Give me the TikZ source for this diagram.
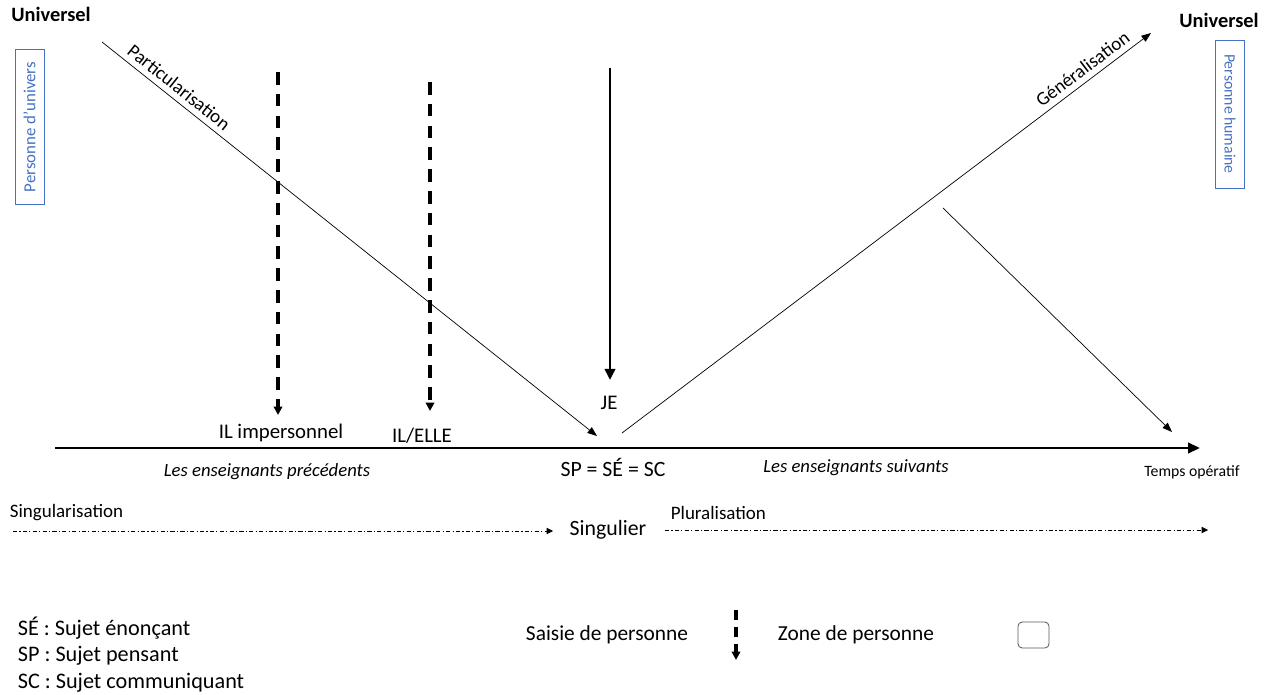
\documentclass[tikz,border=0pt]{standalone}
\usepackage{fontspec}
\setmainfont{Carlito}
\usetikzlibrary{arrows.meta, positioning}
\definecolor{cblue}{HTML}{4472C4}
\definecolor{cgrey}{HTML}{595959}
\tikzset{
  every picture/.style={line width=0.6pt},
  lbl/.style={font=\fontsize{14.8}{17}\selectfont, inner sep=1pt},
  legend/.style={font=\fontsize{15.8}{18}\selectfont, inner sep=1pt},
  small/.style={font=\fontsize{13.5}{15}\selectfont, inner sep=1pt},
  ital/.style={font=\fontsize{13.3}{15}\selectfont\itshape, inner sep=1pt},
  univ/.style={font=\fontsize{14.5}{17}\selectfont\bfseries, inner sep=1pt},
  persbox/.style={draw=cblue, text=cblue, font=\fontsize{12}{14}\selectfont, minimum height=0.725cm, inner sep=1pt},
  zonebox/.style={draw=cgrey, rounded corners=3pt, minimum width=0.775cm, minimum height=0.65cm},
  thinarrow/.style={-{Triangle[length=2.4mm, width=1.8mm]}, line width=0.5pt},
  thickarrow/.style={-{Triangle[length=2.8mm, width=2.6mm]}, line width=2pt},
  saisie/.style={-{Triangle[length=2.1mm, width=2.1mm]}, line width=2.4pt, dash pattern=on 9pt off 6.5pt},
  trajet/.style={-{Triangle[length=1.6mm, width=1.6mm]}, line width=0.6pt, dash pattern=on 3pt off 1.6pt on 0.8pt off 1.6pt},
}
\begin{document}
\begin{tikzpicture}[x=0.025cm, y=-0.025cm]
  \useasboundingbox (0,0) rectangle (1267,695);
  % les deux universels
  \node[univ] (univL) at (51,14) {Universel};
  \node[univ] (univR) at (1219,20) {Universel};
  \node[persbox, rotate=90, minimum width=3.875cm] (persU) at (29.5,127) {Personne d’univers};
  \node[persbox, rotate=-90, minimum width=3.7cm, font=\fontsize{11.2}{13}\selectfont] (persH) at (1230,114) {Personne humaine};
  % particularisation
  \coordinate (partS) at (102,42);
  \coordinate (partE) at (597,436);
  \draw[thinarrow] (partS) -- node[small, sloped, above, pos=0.14, inner sep=4pt] (partL) {Particularisation} (partE);
  % saisies de personne
  \coordinate (ilS) at (278,72);
  \coordinate (ilE) at (278,415);
  \node[lbl] (ilimp) at (281,433) {IL impersonnel};
  \draw[saisie] (ilS) -- (ilE);
  \coordinate (elleS) at (430,82);
  \coordinate (elleE) at (430,411);
  \node[lbl] (elle) at (422,436) {IL/ELLE};
  \draw[saisie] (elleS) -- (elleE);
  \coordinate (jeS) at (610,68);
  \coordinate (jeE) at (610,380);
  \node[lbl] (je) at (609,403) {JE};
  \draw[thickarrow] (jeS) -- (jeE);
  % generalisation
  \coordinate (genS) at (622,433);
  \coordinate (genE) at (1151,33);
  \draw[thinarrow] (genS) -- node[small, sloped, above, pos=0.885, inner sep=4pt] (genL) {Généralisation} (genE);
  \coordinate (sufS) at (943,208);
  \coordinate (sufE) at (1172,432);
  \draw[thinarrow] (sufS) -- (sufE);
  % temps operatif
  \coordinate (tS) at (55,448);
  \coordinate (tE) at (1200,448);
  \draw[thickarrow, -{Triangle[length=3mm, width=2.6mm]}] (tS) -- (tE);
  \node[font=\fontsize{11.2}{13}\selectfont, inner sep=1pt] (temps) at (1192,472) {Temps opératif};
  \node[ital] (prec) at (267,472) {Les enseignants précédents};
  \node[lbl, font=\fontsize{15.5}{18}\selectfont] (sujets) at (613,467) {SP = SÉ = SC};
  \node[ital] (suiv) at (856,468) {Les enseignants suivants};
  % singularisation / pluralisation
  \node[small, anchor=west] (singL) at (8,513) {Singularisation};
  \node[lbl, font=\fontsize{15.5}{18}\selectfont] (sing) at (608,530) {Singulier};
  \coordinate (singS) at (13,531);
  \coordinate (singE) at (553,531);
  \draw[trajet] (singS) -- (singE);
  \node[small, anchor=west] (plurL) at (669,513) {Pluralisation};
  \coordinate (plurS) at (665,530);
  \coordinate (plurE) at (1208,530);
  \draw[trajet] (plurS) -- (plurE);
  % legende
  \node[legend, anchor=west] (se) at (16,628) {SÉ : Sujet énonçant};
  \node[legend, anchor=west] (sp) at (16,656) {SP : Sujet pensant};
  \node[legend, anchor=west] (sc) at (16,683) {SC : Sujet communiquant};
  \node[lbl, font=\fontsize{15.2}{18}\selectfont] (saisieL) at (607,635) {Saisie de personne};
  \coordinate (legS) at (736,610);
  \coordinate (legE) at (736,660);
  \draw[saisie, dash pattern=on 7pt off 5pt] (legS) -- (legE);
  \node[lbl, font=\fontsize{15.2}{18}\selectfont] (zoneL) at (856,635) {Zone de personne};
  \node[zonebox] (zone) at (1033.5,635) {};
\end{tikzpicture}
\end{document}
